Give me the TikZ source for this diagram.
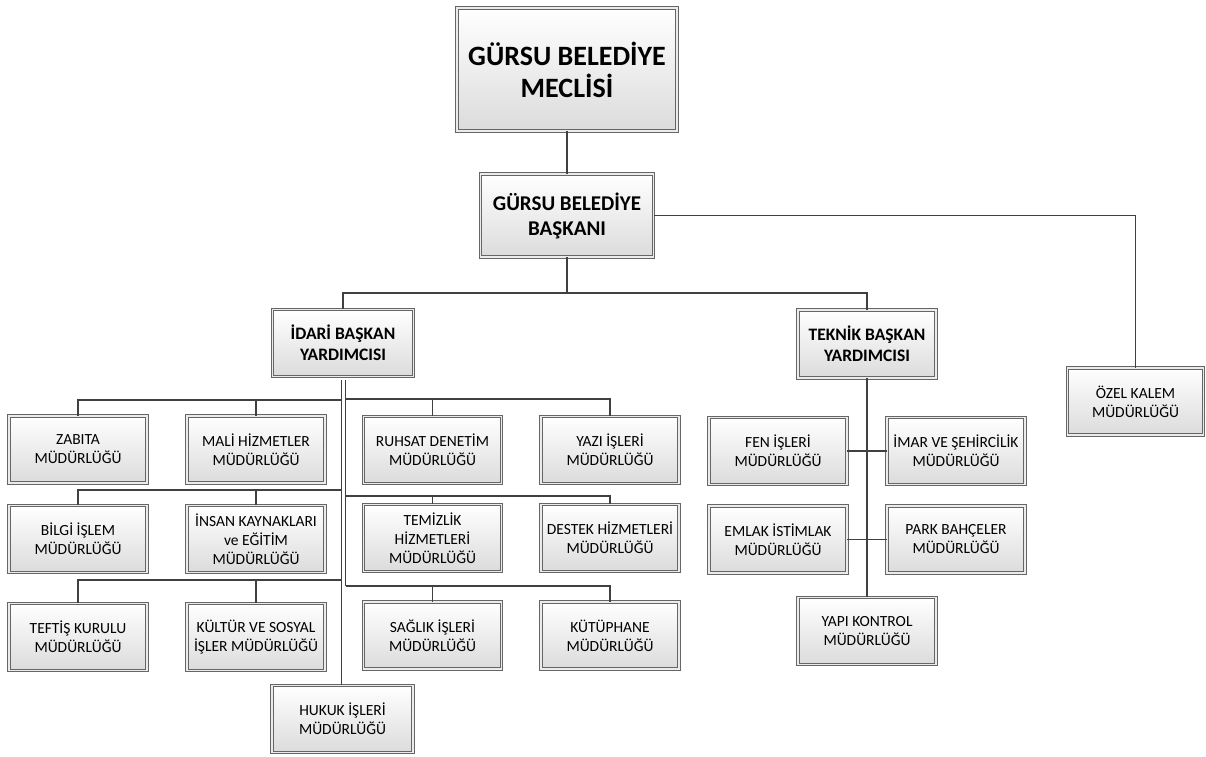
\documentclass[tikz,border=0pt]{standalone}
\usepackage{fontspec}
\setmainfont{Carlito}
\usetikzlibrary{shadows}
\tikzset{
  box/.style={draw=black!60, line width=0.9pt, double=white!92!black, double distance=1.4pt,
    top color=white, bottom color=black!14,
    drop shadow={shadow xshift=1.8pt, shadow yshift=-1.8pt, fill=black, opacity=0.25},
    align=center, inner sep=2pt, minimum width=138pt, minimum height=67pt,
    font=\fontsize{15.5}{19}\selectfont},
  vp/.style={box, minimum width=141pt, font=\fontsize{17.5}{21}\selectfont\bfseries},
  conn/.style={draw=black!75, line width=1.7pt},
}
\begin{document}
\begin{tikzpicture}[x=1pt,y=-1pt]
\useasboundingbox (0,0) rectangle (1206,756);
% top
\node[box, minimum width=220pt, minimum height=123pt, font=\fontsize{28}{32}\selectfont\bfseries] (meclis) at (567,69.5) {GÜRSU BELEDİYE\\MECLİSİ};
\node[box, minimum width=173pt, minimum height=83pt, font=\fontsize{21}{25}\selectfont\bfseries] (baskan) at (567,215.5) {GÜRSU BELEDİYE\\BAŞKANI};
\node[vp] (idari) at (343,343) {İDARİ BAŞKAN\\YARDIMCISI};
\node[vp, minimum width=138pt, minimum height=68pt] (teknik) at (867,344) {TEKNİK BAŞKAN\\YARDIMCISI};
\node[box, minimum width=136pt] (ozel) at (1135.5,401.5) {ÖZEL KALEM\\MÜDÜRLÜĞÜ};
% idari left
\node[box] (zabita) at (78,449.5) {ZABITA\\MÜDÜRLÜĞÜ};
\node[box] (mali) at (256,449.5) {MALİ HİZMETLER\\MÜDÜRLÜĞÜ};
\node[box] (bilgi) at (78,539) {BİLGİ İŞLEM\\MÜDÜRLÜĞÜ};
\node[box] (insan) at (256,539) {İNSAN KAYNAKLARI\\ve EĞİTİM\\MÜDÜRLÜĞÜ};
\node[box] (teftis) at (78,637) {TEFTİŞ KURULU\\MÜDÜRLÜĞÜ};
\node[box] (kultur) at (256,637) {KÜLTÜR VE SOSYAL\\İŞLER MÜDÜRLÜĞÜ};
% idari right
\node[box] (ruhsat) at (432.5,450) {RUHSAT DENETİM\\MÜDÜRLÜĞÜ};
\node[box] (yazi) at (610,450) {YAZI İŞLERİ\\MÜDÜRLÜĞÜ};
\node[box] (temizlik) at (432.5,538) {TEMİZLİK\\HİZMETLERİ\\MÜDÜRLÜĞÜ};
\node[box] (destek) at (610,538) {DESTEK HİZMETLERİ\\MÜDÜRLÜĞÜ};
\node[box] (saglik) at (432.5,635.5) {SAĞLIK İŞLERİ\\MÜDÜRLÜĞÜ};
\node[box] (kutup) at (610,635.5) {KÜTÜPHANE\\MÜDÜRLÜĞÜ};
\node[box, minimum width=141pt] (hukuk) at (342.5,719) {HUKUK İŞLERİ\\MÜDÜRLÜĞÜ};
% teknik
\node[box] (fen) at (778,451) {FEN İŞLERİ\\MÜDÜRLÜĞÜ};
\node[box] (imar) at (956,451) {İMAR VE ŞEHİRCİLİK\\MÜDÜRLÜĞÜ};
\node[box] (emlak) at (778,539.5) {EMLAK İSTİMLAK\\MÜDÜRLÜĞÜ};
\node[box] (park) at (956,539.5) {PARK BAHÇELER\\MÜDÜRLÜĞÜ};
\node[box] (yapi) at (867,631) {YAPI KONTROL\\MÜDÜRLÜĞÜ};
% coordinates
\coordinate (bus1) at (567,293);
\coordinate (TL) at (341.5,380);
\coordinate (TR) at (345.5,380);
\coordinate (L1) at (341.5,400);
\coordinate (L2) at (341.5,490);
\coordinate (L3) at (341.5,580);
\coordinate (R1) at (345.5,399);
\coordinate (R2) at (345.5,496);
\coordinate (R3) at (345.5,586);
% connectors
\draw[conn] (meclis.south) -- (baskan.north);
\draw[conn] (baskan.south) -- (bus1);
\draw[conn] (idari.north) |- (bus1) -| (teknik.north);
\draw[conn] (baskan.east) -| (ozel.north);
\draw[conn] (TL) -- (hukuk.north -| TL);
\draw[conn] (TR) -- (R3);
\draw[conn] (zabita.north) |- (L1);
\draw[conn] (mali.north) -- (mali.north |- L1);
\draw[conn] (bilgi.north) |- (L2);
\draw[conn] (insan.north) -- (insan.north |- L2);
\draw[conn] (teftis.north) |- (L3);
\draw[conn] (kultur.north) -- (kultur.north |- L3);
\draw[conn] (yazi.north) |- (R1);
\draw[conn] (ruhsat.north) -- (ruhsat.north |- R1);
\draw[conn] (destek.north) |- (R2);
\draw[conn] (temizlik.north) -- (temizlik.north |- R2);
\draw[conn] (kutup.north) |- (R3);
\draw[conn] (saglik.north) -- (saglik.north |- R3);
\draw[conn] (teknik.south) -- (yapi.north);
\draw[conn] (fen.east) -- (imar.west);
\draw[conn] (emlak.east) -- (park.west);
\end{tikzpicture}
\end{document}
